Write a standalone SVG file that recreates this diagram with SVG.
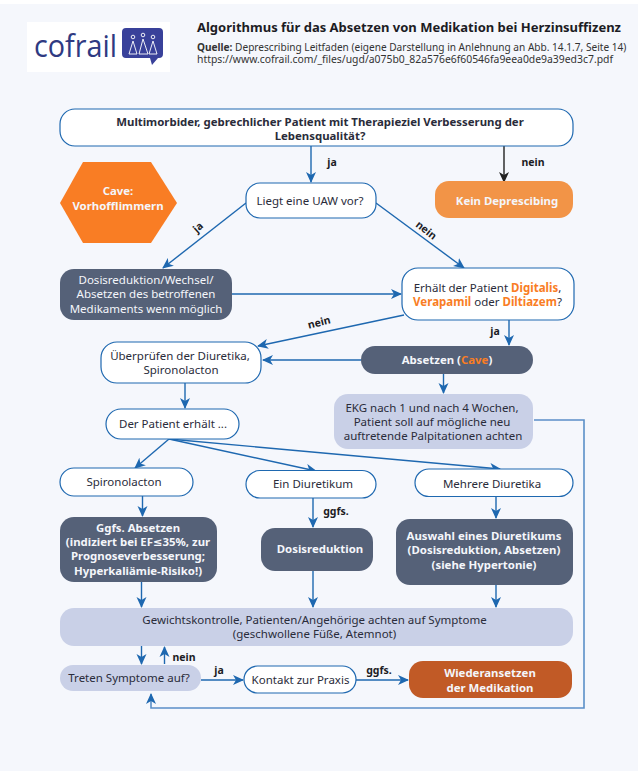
<svg xmlns="http://www.w3.org/2000/svg" width="638" height="771" viewBox="0 0 638 771">
<defs>
<marker id="a" markerUnits="userSpaceOnUse" markerWidth="12" markerHeight="12" refX="10" refY="5" orient="auto" viewBox="0 0 12 10"><path d="M0 0L11 5L0 10L3 5Z" fill="#1e68b0"/></marker>
<marker id="k" markerUnits="userSpaceOnUse" markerWidth="12" markerHeight="12" refX="10" refY="5" orient="auto" viewBox="0 0 12 10"><path d="M0 0L11 5L0 10L3 5Z" fill="#222"/></marker>
</defs>
<style>
text{font-family:"Noto Sans","DejaVu Sans",sans-serif;font-size:11.5px;fill:#2a2c3a;text-anchor:middle}
.b{font-weight:700;font-size:11.4px}
.w{fill:#f4f6fb}
.o{fill:#f97d24;font-weight:700}
.l{font-weight:700;fill:#1c1c24;font-size:10.5px}
.wn{fill:#fff;stroke:#1e68b0;stroke-width:1.2}
.dk{fill:#556178}
.lt{fill:#c9d0e7}
.c path{fill:none;stroke:#1e68b0;stroke-width:1.4;marker-end:url(#a)}
.h{font-size:10.1px;text-anchor:start;fill:#333}
</style>
<rect width="638" height="771" fill="#f5f7fc"/>
<rect width="638" height="4" fill="#fff"/>
<g id="logo">
<rect x="27" y="22" width="143" height="50" fill="#fff"/>
<text x="34" y="57" textLength="83" lengthAdjust="spacingAndGlyphs" style="font-size:31px;text-anchor:start;fill:#2f3a82;font-family:'Open Sans',sans-serif">cofrail</text>
<path d="M126 28H159Q163 28 163 32V54Q163 58 159 58H158L152 65L150 58H126Q122 58 122 54V32Q122 28 126 28Z" fill="#39419a"/>
<g fill="none" stroke="#fff" stroke-width="0.9"><circle cx="133" cy="37" r="1.8"/><circle cx="143" cy="35" r="1.8"/><circle cx="153" cy="37" r="1.8"/><path d="M133 41L129 54H137ZM143 39L139 54H148ZM153 41L149 54H157Z"/></g>
</g>
<g id="title">
<text x="197" y="32" style="font-weight:700;font-size:13px;text-anchor:start;fill:#1c1c24">Algorithmus für das Absetzen von Medikation bei Herzinsuffizenz</text>
<text x="197" y="50.500" class="h"><tspan style="font-weight:700">Quelle:</tspan> Deprescribing Leitfaden (eigene Darstellung in Anlehnung an Abb. 14.1.7, Seite 14)</text>
<text x="197" y="62.500" class="h" style="font-size:10.4px">https://www.cofrail.com/_files/ugd/a075b0_82a576e6f60546fa9eea0de9a39ed3c7.pdf</text>
</g>
<g id="connectors">
<g class="c">
<path d="M311 146V182"/>
<path d="M246 203L163 268"/>
<path d="M376 203L464 268"/>
<path d="M232 294H401"/>
<path d="M404 315L258 346"/>
<path d="M509 320V345"/>
<path d="M361 360H263"/>
<path d="M443.500 374V393"/>
<path d="M185 383V408"/>
<path d="M169 439L135 468"/>
<path d="M169 439L316 471"/>
<path d="M169 439L500 469"/>
<path d="M142.500 496V516"/>
<path d="M313 498V527"/>
<path d="M496 497V518"/>
<path d="M141.500 582V607"/>
<path d="M313 571V607"/>
<path d="M496 585V607"/>
<path d="M141.500 646V664"/>
<path d="M164.500 664V647"/>
<path d="M201 680H243"/>
<path d="M356 680H408"/>
<path d="M534 420H584V708H151V694" style="stroke:#5b8fc7;stroke-width:1.6"/>
</g>
<path d="M504 146V182" fill="none" stroke="#222" stroke-width="1.4" marker-end="url(#k)"/>
</g>
<g id="edge-labels">
<text x="332" y="166" class="l">ja</text>
<text x="533" y="166" class="l">nein</text>
<text x="200.500" y="230" class="l" transform="rotate(-42 200.500 230)">ja</text>
<text x="424" y="233" class="l" transform="rotate(38 424 233)">nein</text>
<text x="320" y="326" class="l" transform="rotate(-14 320 326)">nein</text>
<text x="495" y="335" class="l">ja</text>
<text x="336" y="515" class="l">ggfs.</text>
<text x="184" y="661" class="l">nein</text>
<text x="219" y="674" class="l">ja</text>
<text x="379" y="674" class="l">ggfs.</text>
</g>
<g id="n-start"><rect x="60" y="109" width="513" height="37" rx="15" class="wn"/>
<text x="320" y="126" class="b">Multimorbider, gebrechlicher Patient mit Therapieziel Verbesserung der</text><text x="320" y="140" class="b">Lebensqualität?</text></g>
<g id="n-cave"><path d="M83 162H151L177 203L151 243H83L60 203Z" fill="#f97d24"/>
<text x="118" y="195" class="b w">Cave:</text><text x="118" y="210" class="b w">Vorhofflimmern</text></g>
<g id="n-uaw"><rect x="246" y="183" width="130" height="35" rx="14" class="wn"/><text x="310" y="205">Liegt eine UAW vor?</text></g>
<g id="n-kein"><rect x="435" y="181" width="138" height="37" rx="14" fill="#f29447"/><text x="507" y="205" class="b w">Kein Deprescibing</text></g>
<g id="n-dosis"><rect x="60" y="269" width="172" height="51" rx="14" class="dk"/>
<text x="146" y="284" class="w">Dosisreduktion/Wechsel/</text><text x="146" y="298" class="w">Absetzen des betroffenen</text><text x="146" y="313" class="w">Medikaments wenn möglich</text></g>
<g id="n-digi"><rect x="402" y="268" width="172" height="52" rx="16" class="wn"/>
<text x="487.500" y="292">Erhält der Patient <tspan class="o">Digitalis</tspan>,</text><text x="487.500" y="306"><tspan class="o">Verapamil</tspan> oder <tspan class="o">Diltiazem</tspan>?</text></g>
<g id="n-check"><rect x="101" y="342" width="160" height="41" rx="16" class="wn"/>
<text x="180" y="360">Überprüfen der Diuretika,</text><text x="181" y="374">Spironolacton</text></g>
<g id="n-absetzen"><rect x="361" y="346" width="172" height="28" rx="14" class="dk"/>
<text x="447" y="364" class="b w">Absetzen (<tspan class="o">Cave</tspan>)</text></g>
<g id="n-ekg"><rect x="334" y="394" width="199" height="55" rx="14" class="lt"/>
<text x="432" y="412">EKG nach 1 und nach 4 Wochen,</text><text x="432" y="426">Patient soll auf mögliche neu</text><text x="433" y="440">auftretende Palpitationen achten</text></g>
<g id="n-erhaelt"><rect x="106" y="409" width="133" height="30" rx="15" class="wn"/><text x="173" y="428">Der Patient erhält ...</text></g>
<g id="n-spiro"><rect x="60" y="468" width="133" height="28" rx="14" class="wn"/><text x="124" y="486">Spironolacton</text></g>
<g id="n-ein"><rect x="246" y="470.500" width="130" height="27.500" rx="14" class="wn"/><text x="313" y="488">Ein Diuretikum</text></g>
<g id="n-mehrere"><rect x="415" y="469" width="158" height="27.500" rx="14" class="wn"/><text x="492" y="488">Mehrere Diuretika</text></g>
<g id="n-ggfs"><rect x="60" y="517" width="157" height="65" rx="14" class="dk"/>
<text x="138" y="532" class="b w">Ggfs. Absetzen</text><text x="138" y="546" class="b w">(indiziert bei EF≤35%, zur</text><text x="138" y="560" class="b w">Prognoseverbesserung;</text><text x="138" y="575" class="b w">Hyperkaliämie-Risiko!)</text></g>
<g id="n-reduktion"><rect x="261" y="528" width="112" height="43" rx="14" class="dk"/><text x="320" y="553" class="b w">Dosisreduktion</text></g>
<g id="n-auswahl"><rect x="396" y="519" width="177" height="66" rx="14" class="dk"/>
<text x="484" y="540" class="b w">Auswahl eines Diuretikums</text><text x="484" y="554" class="b w">(Dosisreduktion, Absetzen)</text><text x="484" y="569" class="b w">(siehe Hypertonie)</text></g>
<g id="n-gewicht"><rect x="60" y="608" width="513" height="38" rx="14" class="lt"/>
<text x="314.500" y="624">Gewichtskontrolle, Patienten/Angehörige achten auf Symptome</text><text x="314.500" y="638">(geschwollene Füße, Atemnot)</text></g>
<g id="n-treten"><rect x="60" y="665" width="141" height="26" rx="13" class="lt"/><text x="129" y="682">Treten Symptome auf?</text></g>
<g id="n-kontakt"><rect x="244" y="666" width="112" height="27" rx="13.500" class="wn"/><text x="300.500" y="684">Kontakt zur Praxis</text></g>
<g id="n-wieder"><rect x="409" y="661" width="163" height="37" rx="14" fill="#c15a26"/>
<text x="490" y="677" class="b w">Wiederansetzen</text><text x="490" y="692" class="b w">der Medikation</text></g>
</svg>
